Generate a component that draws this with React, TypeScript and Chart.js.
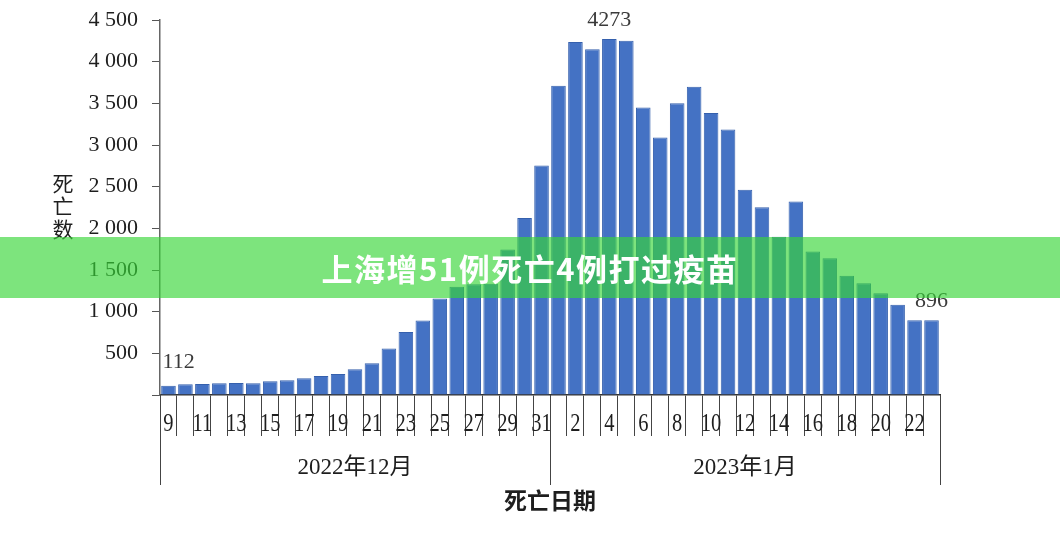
import { useEffect, useRef } from 'react';
import { Chart, registerables } from 'chart.js';

Chart.register(...registerables);

// 上海每日死亡数，2022-12-09 至 2023-01-23
const dayLabels: string[] = [
  '9', '10', '11', '12', '13', '14', '15', '16', '17', '18', '19', '20', '21', '22', '23', '24',
  '25', '26', '27', '28', '29', '30', '31',
  '1', '2', '3', '4', '5', '6', '7', '8', '9', '10', '11', '12', '13', '14', '15', '16', '17',
  '18', '19', '20', '21', '22', '23',
];

const deaths: number[] = [
  112, 128, 132, 140, 144, 140, 164, 176, 200, 228, 252, 308, 380, 558, 756, 893,
  1158, 1300, 1330, 1335, 1745, 2125, 2755,
  3710, 4235, 4150, 4273, 4250, 3450, 3090, 3500, 3700, 3385, 3185, 2462, 2252, 1900,
  2322, 1722, 1642, 1432, 1342, 1222, 1082, 896, 896,
];

const monthLabels: string[] = ['2022年12月', '2023年1月'];
const monthStarts: number[] = [0, 23];

const valueLabelIndices: number[] = [0, 26, 45];

const yTicks: number[] = [0, 500, 1000, 1500, 2000, 2500, 3000, 3500, 4000, 4500];

const yTitle = '死亡数';
const xTitle = '死亡日期';
const bannerText = '上海增51例死亡4例打过疫苗';

const SERIF = '"Liberation Serif", "Noto Sans CJK SC", serif';

function formatThousands(v: number): string {
  return String(v).replace(/\B(?=(\d{3})+(?!\d))/g, ' ');
}

// draws day labels, month groups, separators, titles and value labels
const extrasPlugin = {
  id: 'extras',
  afterDraw(chart: any) {
    const { ctx, chartArea } = chart;
    const x = chart.scales.x;
    const step = x.getPixelForValue(1) - x.getPixelForValue(0);
    const bottom = chartArea.bottom;

    ctx.save();
    ctx.fillStyle = '#1e1e1e';

    // day labels, every other bar
    ctx.font = `25px ${SERIF}`;
    ctx.textAlign = 'center';
    ctx.textBaseline = 'middle';
    dayLabels.forEach((d, i) => {
      if (i % 2 !== 0) return;
      ctx.save();
      ctx.translate(x.getPixelForValue(i), bottom + 29);
      ctx.scale(0.82, 1);
      ctx.fillText(d, 0, 0);
      ctx.restore();
    });

    // month separators and labels
    const bounds = [...monthStarts, dayLabels.length];
    ctx.strokeStyle = '#444';
    ctx.lineWidth = 1;
    bounds.forEach((b) => {
      const px = Math.round(x.getPixelForValue(b) - step / 2) + 0.5;
      ctx.beginPath();
      ctx.moveTo(px, bottom);
      ctx.lineTo(px, bottom + 90);
      ctx.stroke();
    });
    ctx.font = `23px ${SERIF}`;
    monthLabels.forEach((m, i) => {
      const a = x.getPixelForValue(bounds[i]) - step / 2;
      const b = x.getPixelForValue(bounds[i + 1]) - step / 2;
      ctx.fillText(m, (a + b) / 2, bottom + 73);
    });

    // x axis title
    ctx.font = `bold 23px "Noto Sans CJK SC", sans-serif`;
    ctx.fillText(xTitle, (chartArea.left + chartArea.right) / 2, bottom + 105);

    // y axis title, stacked characters
    ctx.font = `21px "Noto Sans CJK SC", sans-serif`;
    const yMid = (chartArea.top + bottom) / 2;
    Array.from(yTitle).forEach((c, i) => {
      ctx.fillText(c, 63, yMid - 24 + i * 23);
    });

    // value labels
    const meta = chart.getDatasetMeta(0);
    ctx.font = `22px ${SERIF}`;
    ctx.fillStyle = '#3a3a3a';
    ctx.textBaseline = 'bottom';
    valueLabelIndices.forEach((idx, k) => {
      const bar = meta.data[idx];
      if (k === 0) {
        ctx.textAlign = 'left';
        ctx.fillText(String(deaths[idx]), bar.x - 6, bar.y - 12);
      } else {
        ctx.textAlign = 'center';
        ctx.fillText(String(deaths[idx]), bar.x, bar.y - 8);
      }
    });

    ctx.restore();
  },
};

function DeathChart() {
  const canvasRef = useRef<HTMLCanvasElement>(null);

  useEffect(() => {
    if (!canvasRef.current) return;
    const chart = new Chart(canvasRef.current, {
      type: 'bar',
      data: {
        labels: dayLabels,
        datasets: [
          {
            data: deaths,
            backgroundColor: '#4472c4',
            borderColor: '#3560ad',
            borderWidth: 1,
            barPercentage: 0.86,
            categoryPercentage: 1,
          },
        ],
      },
      options: {
        animation: false,
        responsive: true,
        maintainAspectRatio: false,
        layout: { padding: { left: 0, right: 120, top: 20, bottom: 0 } },
        plugins: {
          legend: { display: false },
          tooltip: { enabled: false },
        },
        scales: {
          x: {
            grid: {
              display: true,
              offset: true,
              drawOnChartArea: false,
              drawTicks: true,
              tickLength: 41,
              color: '#444',
              lineWidth: 1,
            },
            border: { display: true, color: '#333', width: 1.5 },
            ticks: { display: false },
            afterFit: (scale: any) => {
              scale.height = 142;
              scale.paddingLeft = 0;
              scale.paddingRight = 0;
            },
          },
          y: {
            min: 0,
            max: 4500,
            afterBuildTicks: (scale: any) => {
              scale.ticks = yTicks.map((v) => ({ value: v }));
            },
            grid: {
              drawOnChartArea: false,
              drawTicks: true,
              tickLength: 8,
              color: '#555',
            },
            border: { display: true, color: '#666', width: 1.5 },
            ticks: {
              padding: 14,
              color: '#1e1e1e',
              font: { family: SERIF, size: 22 },
              callback: (v: any) => (Number(v) === 0 ? '' : formatThousands(Number(v))),
            },
            afterFit: (scale: any) => {
              scale.width = 160;
              scale.paddingTop = 0;
              scale.paddingBottom = 0;
            },
          },
        },
      },
      plugins: [extrasPlugin],
    });
    return () => chart.destroy();
  }, []);

  return (
    <div style={{ position: 'absolute', left: 0, top: 0, width: 1060, height: 537, background: '#fff' }}>
      <canvas ref={canvasRef} />
      <div
        style={{
          position: 'absolute',
          left: 0,
          top: 237,
          width: 1060,
          height: 61,
          lineHeight: '61px',
          background: 'rgba(55, 214, 55, 0.65)',
          color: '#fff',
          fontFamily: '"Noto Sans CJK SC", sans-serif',
          fontWeight: 'bold',
          fontSize: 31,
          letterSpacing: 1.5,
          textAlign: 'center',
        }}
      >
        {bannerText}
      </div>
    </div>
  );
}

export default function App() {
  return <DeathChart />;
}
